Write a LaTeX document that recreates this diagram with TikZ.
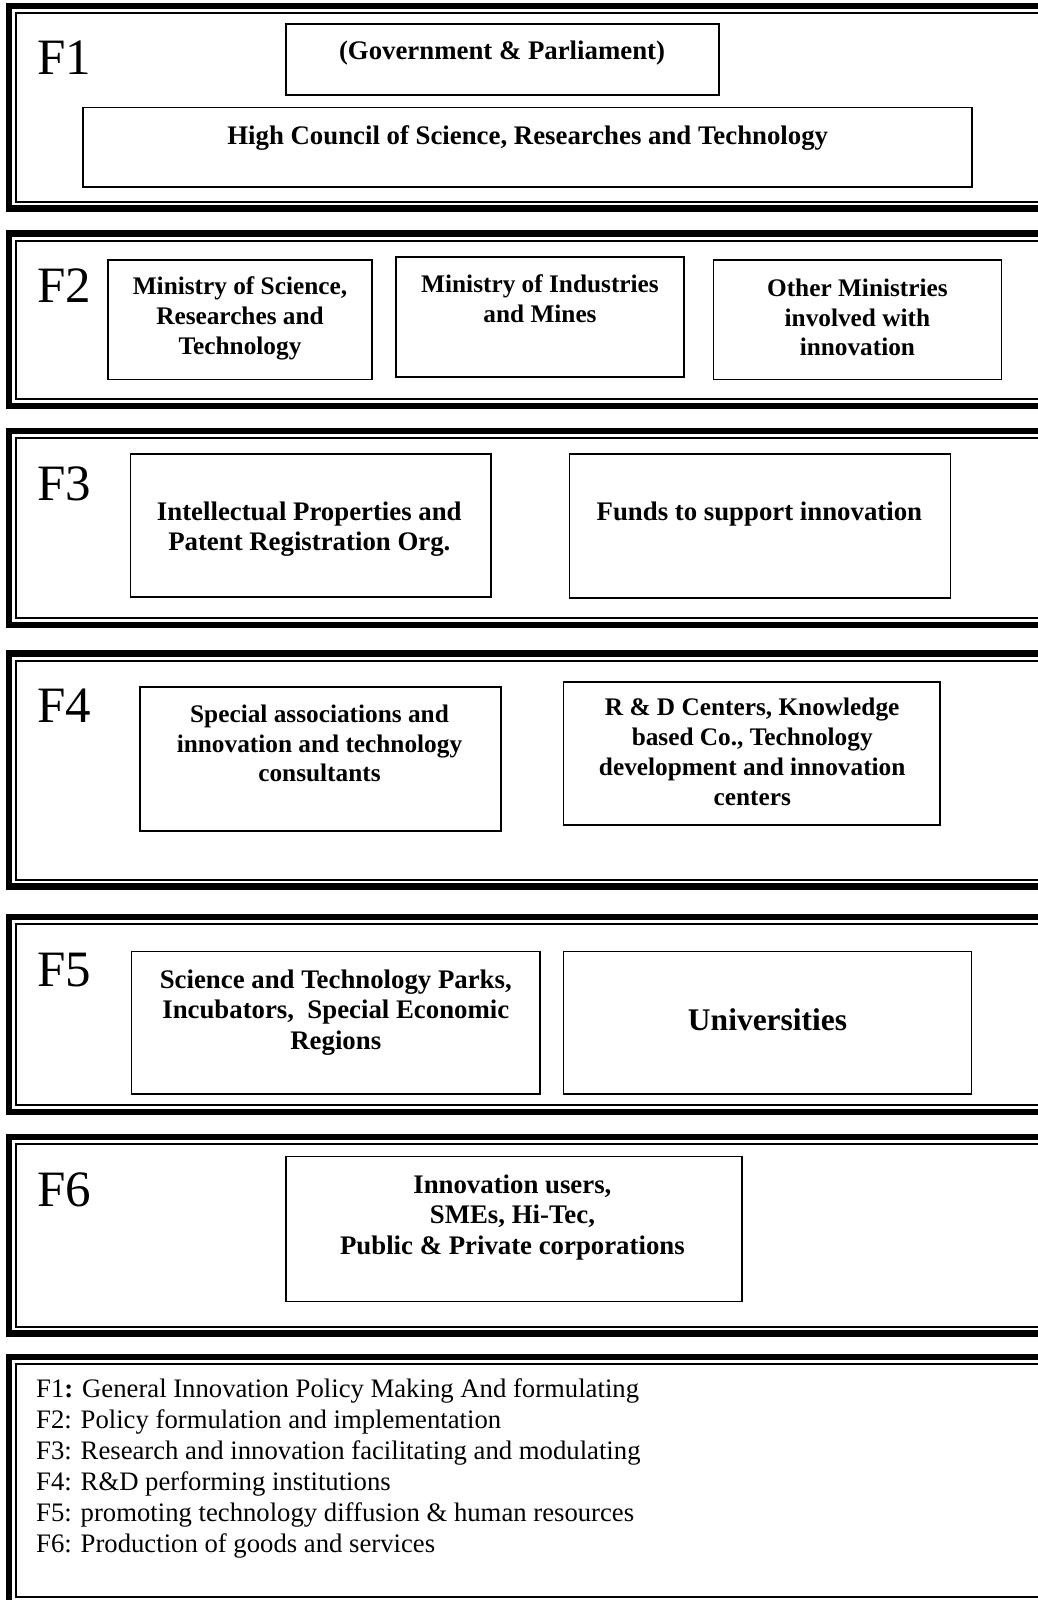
\documentclass[tikz,border=0pt]{standalone}
\usepackage{fontspec}
\setmainfont{Liberation Serif}
\newcommand\drawpanel[2]{%
  \draw[thickline] (9,#1) rectangle (1070,#2);
  \draw[thinline] (15.5,#1+7) rectangle (1063,#2-7);}
\begin{document}
\begin{tikzpicture}[x=1pt,y=-1pt,
  thickline/.style={line width=6.5pt},
  thinline/.style={line width=2pt},
  box/.style={draw, line width=1.8pt, inner sep=0pt},
  btext/.style={font=\fontsize{26.8}{30.3}\selectfont\bfseries, align=center, inner sep=0pt},
  stext/.style={btext, font=\fontsize{25.3}{29.7}\selectfont\bfseries},
  flabel/.style={font=\fontsize{51}{55}\selectfont, anchor=base west, inner sep=0pt},
  legtext/.style={font=\fontsize{26.7}{30}\selectfont, anchor=base west, inner sep=0pt}]
\fill[white] (0,0) rectangle (1037,1600);
\useasboundingbox (0,0) rectangle (1037,1600);
% panels
\drawpanel{6}{208.5}
\drawpanel{233.5}{406}
\drawpanel{431}{625}
\drawpanel{653.5}{886.5}
\drawpanel{917}{1112}
\drawpanel{1137}{1333.5}
\drawpanel{1357}{1604}
% labels
\node[flabel] (l1) at (37,75) {F1};
\node[flabel] (l2) at (37,302.5) {F2};
\node[flabel] (l3) at (37,500) {F3};
\node[flabel] (l4) at (37,722.5) {F4};
\node[flabel] (l5) at (37,986) {F5};
\node[flabel] (l6) at (37,1206) {F6};
% boxes
\node[box, minimum width=433pt, minimum height=71pt] (gov) at (502.5,59.5) {};
\node[box, minimum width=889pt, minimum height=79.5pt] (hc) at (527.5,147.25) {};
\node[box, minimum width=264pt, minimum height=119.5pt] (msrt) at (240,319.75) {};
\node[box, minimum width=288pt, minimum height=120pt] (mim) at (540,317) {};
\node[box, minimum width=288pt, minimum height=119.5pt] (oth) at (857.5,319.75) {};
\node[box, minimum width=360.5pt, minimum height=143pt] (ip) at (310.75,525.5) {};
\node[box, minimum width=381pt, minimum height=144pt] (funds) at (760,526) {};
\node[box, minimum width=361pt, minimum height=144pt] (sa) at (320.5,759) {};
\node[box, minimum width=376.5pt, minimum height=143pt] (rd) at (751.75,753.5) {};
\node[box, minimum width=408.5pt, minimum height=142.5pt] (stp) at (335.75,1022.75) {};
\node[box, minimum width=408pt, minimum height=142.5pt] (univ) at (767.5,1022.75) {};
\node[box, minimum width=456pt, minimum height=145pt] (iu) at (514,1229) {};
% box texts
\node[btext] (govt) at (502,53) {(Government \& Parliament)};
\node[btext] (hct) at (527.7,138) {High Council of Science, Researches and Technology};
\node[stext] (msrtt) at (240,318.5) {Ministry of Science,\\Researches and\\Technology};
\node[stext] (mimt) at (540,298.5) {Ministry of Industries\\and Mines};
\node[stext] (otht) at (857.4,317.5) {Other Ministries\\involved with\\innovation};
\node[btext] (ipt) at (309.3,529.2) {Intellectual Properties and\\Patent Registration Org.};
\node[btext] (fundst) at (759.4,514.5) {Funds to support innovation};
\node[stext] (sat) at (319.5,743.5) {Special associations and\\innovation and technology\\consultants};
\node[stext] (rdt) at (752.2,751.8) {R \& D Centers, Knowledge\\based Co., Technology\\development and innovation\\centers};
\node[btext] (stpt) at (335.8,1012.5) {Science and Technology Parks,\\Incubators,\ \ Special Economic\\Regions};
\node[btext, font=\fontsize{31.5}{36}\selectfont\bfseries] (univt) at (767.6,1019.7) {Universities};
\node[btext] (iut) at (512.4,1217.5) {Innovation users,\\SMEs, Hi-Tec,\\Public \& Private corporations};
% legend
\node[legtext] (g1) at (36,1397.5) {F1\textbf{:} General Innovation Policy Making And formulating};
\node[legtext] (g2) at (36,1428.4) {F2: Policy formulation and implementation};
\node[legtext] (g3) at (36,1459.3) {F3: Research and innovation facilitating and modulating};
\node[legtext] (g4) at (36,1490.2) {F4: R\&D performing institutions};
\node[legtext] (g5) at (36,1521.1) {F5: promoting technology diffusion \& human resources};
\node[legtext] (g6) at (36,1552) {F6: Production of goods and services};
\end{tikzpicture}
\end{document}
